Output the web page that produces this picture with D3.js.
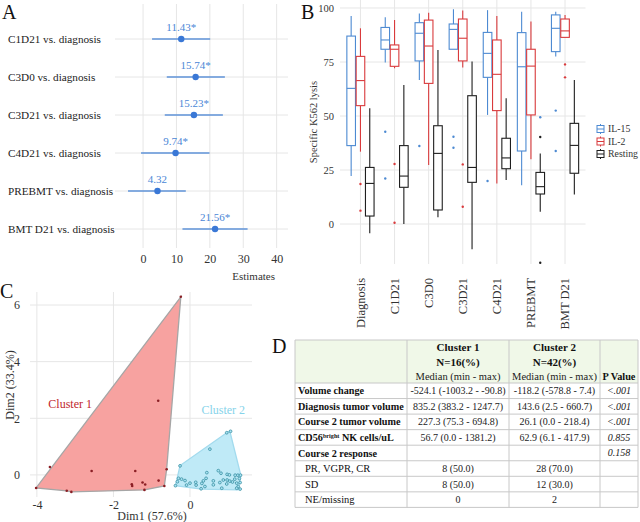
<!DOCTYPE html>
<html><head><meta charset="utf-8">
<script src="https://cdn.jsdelivr.net/npm/d3@7"></script>
<style>
body{margin:0;background:#fff}
svg text{font-family:'Liberation Serif','Times New Roman',Times,'DejaVu Serif',serif !important}
</style>
</head><body>
<svg id="chart" width="640" height="522" font-family="Liberation Serif"></svg>
<script>
// ---------- Panel A data ----------
const forestRows = ["C1D21 vs. diagnosis","C3D0 vs. diagnosis","C3D21 vs. diagnosis","C4D21 vs. diagnosis","PREBMT vs. diagnosis","BMT D21 vs. diagnosis"];
const estimates = [11.43, 15.74, 15.23, 9.74, 4.32, 21.56];
const ciLow = [2.7, 7.1, 6.5, -0.6, -4.5, 11.8];
const ciHigh = [20.1, 24.5, 23.9, 19.9, 12.8, 31.3];
const estLabels = ["11.43*","15.74*","15.23*","9.74*","4.32","21.56*"];
const forestTicks = [0, 10, 20, 30, 40];

// ---------- Panel B data ----------
const timepoints = ["Diagnosis","C1D21","C3D0","C3D21","C4D21","PREBMT","BMT D21"];
const seriesNames = ["IL-15","IL-2","Resting"];
// [lower whisker, Q1, median, Q3, upper whisker]
const il15Stats = [[22.2,36.3,62.8,87,96.3],[74.8,80.9,85.2,91,95.7],[66.7,75.5,88.3,93.2,97.5],[80.9,80.9,90.1,92.6,99.4],[50.5,67.9,79,88.7,99],[18,33.8,72.8,88.6,98.3],[77.5,79.8,90.6,96.8,98.3]];
const il2Stats = [[33.5,54.8,66.4,77.6,90.6],[72.1,73,80.9,82.9,94.4],[27.3,65.1,82.4,94.4,97.8],[72.4,75.5,86,94.9,98.8],[18.8,52.5,69.3,85.2,96.3],[30,50.5,73.1,80.9,93.7],[86.4,86.4,89.4,94.9,96.8]];
const restingStats = [[-4.3,3.7,18.8,26.2,53.6],[0,17,22.2,36.3,64.4],[3.1,6.5,32.7,45.5,80.6],[-11.7,19.3,26.2,59.4,75.2],[20.4,25.6,30.6,39.7,58.2],[5.7,13.9,17.3,23.9,32.7],[13.7,23.5,36.4,46.6,66.7]];
const il15Outliers = [[],[42.7,21.1],[36.1],[40.4,35.3],[19.9],[],[52.5,33.8]];
const il2Outliers = [[18.5,6.2],[27.8,0.6],[],[27.6,8],[],[],[73.9,67.9]];
const restingOutliers = [[],[],[],[],[],[40.3,-17.9],[]];
const prebmtExtraIl15 = [49.4]; // blue dot drawn in the Resting slot at PREBMT
const lysisTicks = [0, 25, 50, 75, 100];

// ---------- Panel C data ----------
const cluster1Points = [[-3.66,0.28],[-2.57,0.14],[-1.43,0.14],[-0.83,2.62],[-0.24,6.29],[-0.61,0.2],[-0.82,-0.2],[-0.67,-0.39],[-1.24,-0.27],[-1.17,-0.34],[-1.52,-0.33],[-1.51,-0.39],[-1.19,-0.53],[-3.22,-0.56],[-3.1,-0.6],[-4.02,-0.46]];
const cluster1Hull = [[-4.02,-0.46],[-0.24,6.29],[-0.61,0.2],[-0.67,-0.39],[-1.19,-0.53],[-3.1,-0.6],[-3.22,-0.56]];
const cluster2Points = [[0.96,1.49],[1.06,1.54],[0.52,0.91],[-0.26,0.32],[0.44,0.08],[0.74,0.15],[0.81,0.06],[0.97,0.02],[1.03,0],[1.18,-0.01],[1.25,-0.01],[1.32,-0.01],[-0.3,-0.12],[-0.22,-0.15],[-0.13,-0.2],[-0.33,-0.24],[0.15,-0.26],[0.35,-0.21],[0.42,-0.12],[0.31,-0.3],[0.61,-0.21],[0.78,-0.27],[0.87,-0.18],[0.97,-0.18],[1.04,-0.22],[1.11,-0.25],[0.96,-0.32],[1.17,-0.15],[1.29,-0.13],[1.22,-0.29],[1.31,-0.27],[1.26,-0.41],[1.22,-0.47],[1.31,-0.5],[-0.38,-0.38],[-0.09,-0.36],[0.16,-0.36],[0.39,-0.41],[0.29,-0.49],[0.83,-0.47],[0.61,-0.35],[0,-0.29]];
const cluster2Hull = [[-0.38,-0.38],[-0.26,0.33],[0.96,1.49],[1.04,1.55],[1.33,-0.02],[1.26,-0.53],[0.3,-0.5]];
const dim1Ticks = [-4,-2,0];
const dim2Ticks = [0,2,4,6];
const clusterLabels = ["Cluster 1","Cluster 2"];
const clusterLabelPos = [[-3.13,2.5],[0.87,2.3]];

// ---------- Panel D data ----------
const tableHeaders = [["Cluster 1","N=16(%)","Median (min - max)"],["Cluster 2","N=42(%)","Median (min - max)"]];
const tableRowLabels = ["Volume change","Diagnosis tumor volume","Course 2 tumor volume","CD56|bright| NK cells/uL","Course 2 response","PR, VGPR, CR","SD","NE/missing"];
const tableCluster1 = ["-524.1 (-1003.2 - -90.8)","835.2 (383.2 - 1247.7)","227.3 (75.3 - 694.8)","56.7 (0.0 - 1381.2)","","8 (50.0)","8 (50.0)","0"];
const tableCluster2 = ["-118.2 (-578.8 - 7.4)","143.6 (2.5 - 660.7)","26.1 (0.0 - 218.4)","62.9 (6.1 - 417.9)","","28 (70.0)","12 (30.0)","2"];
const tablePValues = ["<.001","<.001","<.001","0.855","0.158","","",""];
const tableBoldRows = [true,true,true,true,true,false,false,false];

// =====================================================
const FONT = "Liberation Serif";
const svg = d3.select("#chart");
const grid = "#e6e6e6";
const txt = "#333";
function T(sel){ return sel.attr("font-family",FONT); }

function panelLetter(t, x, y){
  T(svg.append("text")).attr("x",x).attr("y",y).attr("font-size",20).attr("fill","#111").text(t);
}
panelLetter("A",2,19); panelLetter("B",301,19); panelLetter("C",0,298); panelLetter("D",272,353);

// ---------- Panel A ----------
{
  const g = svg.append("g");
  const x = d3.scaleLinear().domain([-8.4,43.4]).range([115,288]);
  const y = d3.scalePoint().domain(forestRows).range([39,229]);
  g.selectAll(".vg").data(forestTicks).join("line")
    .attr("x1",d=>x(d)).attr("x2",d=>x(d)).attr("y1",4).attr("y2",248).attr("stroke",grid);
  g.selectAll(".hg").data(forestRows).join("line")
    .attr("x1",115).attr("x2",288).attr("y1",d=>y(d)).attr("y2",d=>y(d)).attr("stroke",grid);
  const ax = g.append("g").attr("transform","translate(0,251)")
    .call(d3.axisBottom(x).tickValues(forestTicks).tickSize(0).tickPadding(3));
  ax.attr("font-family",FONT);
  ax.select(".domain").remove();
  ax.selectAll("text").attr("font-size",12).attr("fill",txt);
  T(g.selectAll(".rl").data(forestRows).join("text"))
    .attr("x",8).attr("y",d=>y(d)).attr("dy","0.35em").attr("font-size",11.2).attr("fill","#222").text(d=>d);
  g.selectAll(".ci").data(forestRows).join("line")
    .attr("x1",(d,i)=>x(ciLow[i])).attr("x2",(d,i)=>x(ciHigh[i]))
    .attr("y1",d=>y(d)).attr("y2",d=>y(d)).attr("stroke","#5f93d8").attr("stroke-width",1.4);
  g.selectAll(".pt").data(forestRows).join("circle")
    .attr("cx",(d,i)=>x(estimates[i])).attr("cy",d=>y(d)).attr("r",3.2).attr("fill","#3a78d6");
  T(g.selectAll(".el").data(forestRows).join("text"))
    .attr("x",(d,i)=>x(estimates[i])).attr("y",d=>y(d)-8).attr("text-anchor","middle")
    .attr("font-size",11).attr("fill","#4a86d6").text((d,i)=>estLabels[i]);
  T(g.append("text")).attr("x",275).attr("y",280).attr("text-anchor","end").attr("font-size",11).attr("fill",txt).text("Estimates");
}

// ---------- Panel B ----------
{
  const g = svg.append("g");
  const x = d3.scalePoint().domain(timepoints).range([340,585.5]).padding(0.6);
  const y = d3.scaleLinear().domain([-18.5,103.7]).range([264,0]);
  const dodge = d3.scalePoint().domain(seriesNames).range([-9.3,9.3]);
  const colors = d3.scaleOrdinal().domain(seriesNames).range(["#4d8ad2","#d93a3c","#1e1e1e"]);
  const stats = [il15Stats, il2Stats, restingStats];
  const outs = [il15Outliers, il2Outliers, restingOutliers];
  g.selectAll(".vg").data(timepoints).join("line")
    .attr("x1",d=>x(d)).attr("x2",d=>x(d)).attr("y1",0).attr("y2",264).attr("stroke",grid);
  g.selectAll(".hg").data(lysisTicks).join("line")
    .attr("x1",340).attr("x2",585.5).attr("y1",d=>y(d)).attr("y2",d=>y(d)).attr("stroke",grid);
  const ay = g.append("g").attr("transform","translate(337,0)")
    .call(d3.axisLeft(y).tickValues(lysisTicks).tickSize(0).tickPadding(3));
  ay.attr("font-family",FONT);
  ay.select(".domain").remove();
  ay.selectAll("text").attr("font-size",10.5).attr("fill",txt);
  T(g.append("text")).attr("transform","translate(313,122) rotate(-90)").attr("text-anchor","middle")
    .attr("dy","0.35em").attr("font-size",10.5).attr("fill",txt).text("Specific K562 lysis");
  T(g.selectAll(".xl").data(timepoints).join("text"))
    .attr("transform",d=>`translate(${x(d)},278) rotate(-90)`).attr("text-anchor","end")
    .attr("dy","0.35em").attr("font-size",12.5).attr("fill",txt).text(d=>d);
  const bw = 8.6;
  seriesNames.forEach((s,si)=>{
    const col = colors(s);
    const bg = g.append("g");
    timepoints.forEach((t,ti)=>{
      const [lo,q1,md,q3,hi] = stats[si][ti];
      const cx = x(t)+dodge(s);
      bg.append("line").attr("x1",cx).attr("x2",cx).attr("y1",y(hi)).attr("y2",y(q3)).attr("stroke",col).attr("stroke-width",1.1);
      bg.append("line").attr("x1",cx).attr("x2",cx).attr("y1",y(q1)).attr("y2",y(lo)).attr("stroke",col).attr("stroke-width",1.1);
      bg.append("rect").attr("x",cx-bw/2).attr("width",bw).attr("y",y(q3)).attr("height",Math.max(0.5,y(q1)-y(q3)))
        .attr("fill","white").attr("stroke",col).attr("stroke-width",1.1);
      bg.append("line").attr("x1",cx-bw/2).attr("x2",cx+bw/2).attr("y1",y(md)).attr("y2",y(md)).attr("stroke",col).attr("stroke-width",1.1);
      outs[si][ti].forEach(v=>{
        bg.append("circle").attr("cx",cx).attr("cy",y(v)).attr("r",1.2).attr("fill",col);
      });
    });
  });
  prebmtExtraIl15.forEach(v=>{
    g.append("circle").attr("cx",x("PREBMT")+dodge("Resting")).attr("cy",y(v)).attr("r",1.2).attr("fill",colors("IL-15"));
  });
  // legend
  const lg = g.append("g");
  seriesNames.forEach((s,i)=>{
    const yy = 129 + i*12.5;
    const col = colors(s);
    lg.append("line").attr("x1",600.5).attr("x2",600.5).attr("y1",yy-5).attr("y2",yy+5).attr("stroke",col).attr("stroke-width",1);
    lg.append("rect").attr("x",597).attr("y",yy-3.5).attr("width",7).attr("height",7).attr("fill","white").attr("stroke",col).attr("stroke-width",1);
    lg.append("line").attr("x1",597).attr("x2",604).attr("y1",yy).attr("y2",yy).attr("stroke",col).attr("stroke-width",1);
    T(lg.append("text")).attr("x",608).attr("y",yy).attr("dy","0.35em").attr("font-size",9.8).attr("fill",txt).text(s);
  });
}

// ---------- Panel C ----------
{
  const g = svg.append("g");
  const x = d3.scaleLinear().domain([-4.18,1.62]).range([30,252]);
  const y = d3.scaleLinear().domain([-0.78,6.46]).range([497,292]);
  g.selectAll(".vg").data(dim1Ticks).join("line")
    .attr("x1",d=>x(d)).attr("x2",d=>x(d)).attr("y1",292).attr("y2",497).attr("stroke",grid);
  g.selectAll(".hg").data(dim2Ticks).join("line")
    .attr("x1",30).attr("x2",252).attr("y1",d=>y(d)).attr("y2",d=>y(d)).attr("stroke",grid);
  const line = d3.line().x(d=>x(d[0])).y(d=>y(d[1])).curve(d3.curveLinearClosed);
  g.append("path").attr("d",line(cluster1Hull)).attr("fill","#f7a2a0").attr("stroke","#a6a6a6").attr("stroke-width",1.3);
  g.append("path").attr("d",line(cluster2Hull)).attr("fill","#bfeaf7").attr("stroke","#a3dbee").attr("stroke-width",1.3);
  g.selectAll(".p1").data(cluster1Points).join("circle")
    .attr("cx",d=>x(d[0])).attr("cy",d=>y(d[1])).attr("r",1.3).attr("fill","#8b1e24");
  g.selectAll(".p2").data(cluster2Points).join("circle")
    .attr("cx",d=>x(d[0])).attr("cy",d=>y(d[1])).attr("r",1.4).attr("fill","#a9e3f3").attr("stroke","#2e8799").attr("stroke-width",0.7);
  T(g.selectAll(".cl").data(clusterLabels).join("text"))
    .attr("x",(d,i)=>x(clusterLabelPos[i][0])).attr("y",(d,i)=>y(clusterLabelPos[i][1])).attr("dy","0.35em")
    .attr("text-anchor","middle").attr("font-size",12).attr("fill",(d,i)=>i===0?"#c0262d":"#86d3ea").text(d=>d);
  const ax = g.append("g").attr("transform","translate(0,497)")
    .call(d3.axisBottom(x).tickValues(dim1Ticks).tickFormat(d=>String(d)).tickSize(0).tickPadding(3));
  ax.attr("font-family",FONT);
  ax.select(".domain").remove();
  ax.selectAll("text").attr("font-size",12).attr("fill",txt);
  const ay = g.append("g").attr("transform","translate(23,0)")
    .call(d3.axisLeft(y).tickValues(dim2Ticks).tickFormat(d=>String(d)).tickSize(0).tickPadding(3));
  ay.attr("font-family",FONT);
  ay.select(".domain").remove();
  ay.selectAll("text").attr("font-size",12).attr("fill",txt);
  T(g.append("text")).attr("x",152).attr("y",520).attr("text-anchor","middle").attr("font-size",12).attr("fill",txt).text("Dim1 (57.6%)");
  T(g.append("text")).attr("transform","translate(10,385) rotate(-90)").attr("text-anchor","middle").attr("dy","0.35em")
    .attr("font-size",12).attr("fill",txt).text("Dim2 (33.4%)");
}

// ---------- Panel D ----------
{
  const g = svg.append("g");
  const cols = [295,407,509,600,638];
  const top = 340, headBottom = 383, rowH = 15.55;
  const rowY = d3.scaleBand().domain(d3.range(tableRowLabels.length)).range([headBottom, headBottom+rowH*tableRowLabels.length]);
  const bottom = headBottom+rowH*tableRowLabels.length;
  const lc = "#c8c8c8";
  g.append("rect").attr("x",cols[0]).attr("y",top).attr("width",cols[4]-cols[0]).attr("height",headBottom-top).attr("fill","#f0f8e8");
  const hl = [top, headBottom].concat(d3.range(1,tableRowLabels.length+1).map(i=>headBottom+i*rowH));
  g.selectAll(".hl").data(hl).join("line").attr("x1",cols[0]).attr("x2",cols[4]).attr("y1",d=>d).attr("y2",d=>d).attr("stroke",lc);
  g.selectAll(".vl").data(cols).join("line").attr("x1",d=>d).attr("x2",d=>d).attr("y1",top).attr("y2",bottom).attr("stroke",lc);
  tableHeaders.forEach((h,i)=>{
    const cx = (cols[i+1]+cols[i+2])/2;
    T(g.append("text")).attr("x",cx).attr("y",351).attr("text-anchor","middle").attr("font-size",11).attr("font-weight","bold").attr("fill","#111").text(h[0]);
    T(g.append("text")).attr("x",cx).attr("y",365.5).attr("text-anchor","middle").attr("font-size",11).attr("font-weight","bold").attr("fill","#111").text(h[1]);
    T(g.append("text")).attr("x",cx).attr("y",380).attr("text-anchor","middle").attr("font-size",10.5).attr("fill","#222").text(h[2]);
  });
  T(g.append("text")).attr("x",(cols[3]+cols[4])/2).attr("y",380).attr("text-anchor","middle").attr("font-size",10.3).attr("font-weight","bold").attr("fill","#111").text("P Value");
  tableRowLabels.forEach((lab,i)=>{
    const yy = rowY(i)+rowH/2;
    const t = T(g.append("text")).attr("x",tableBoldRows[i]?298:305).attr("y",yy).attr("dy","0.35em")
      .attr("font-size",tableBoldRows[i]?10.2:10.5).attr("font-weight",tableBoldRows[i]?"bold":"normal").attr("fill","#111");
    const parts = lab.split("|");
    if(parts.length===3){
      t.append("tspan").text(parts[0]);
      t.append("tspan").attr("font-size",6.2).attr("dy","-0.5em").text(parts[1]);
      t.append("tspan").attr("dy","0.3em").text(parts[2]);
    } else t.text(lab);
    T(g.append("text")).attr("x",(cols[1]+cols[2])/2).attr("y",yy).attr("dy","0.35em").attr("text-anchor","middle").attr("font-size",10).attr("fill","#222").text(tableCluster1[i]);
    T(g.append("text")).attr("x",(cols[2]+cols[3])/2).attr("y",yy).attr("dy","0.35em").attr("text-anchor","middle").attr("font-size",10).attr("fill","#222").text(tableCluster2[i]);
    T(g.append("text")).attr("x",(cols[3]+cols[4])/2).attr("y",yy).attr("dy","0.35em").attr("text-anchor","middle").attr("font-size",10).attr("font-style","italic").attr("fill","#222").text(tablePValues[i]);
  });
}
</script>
</body></html>
